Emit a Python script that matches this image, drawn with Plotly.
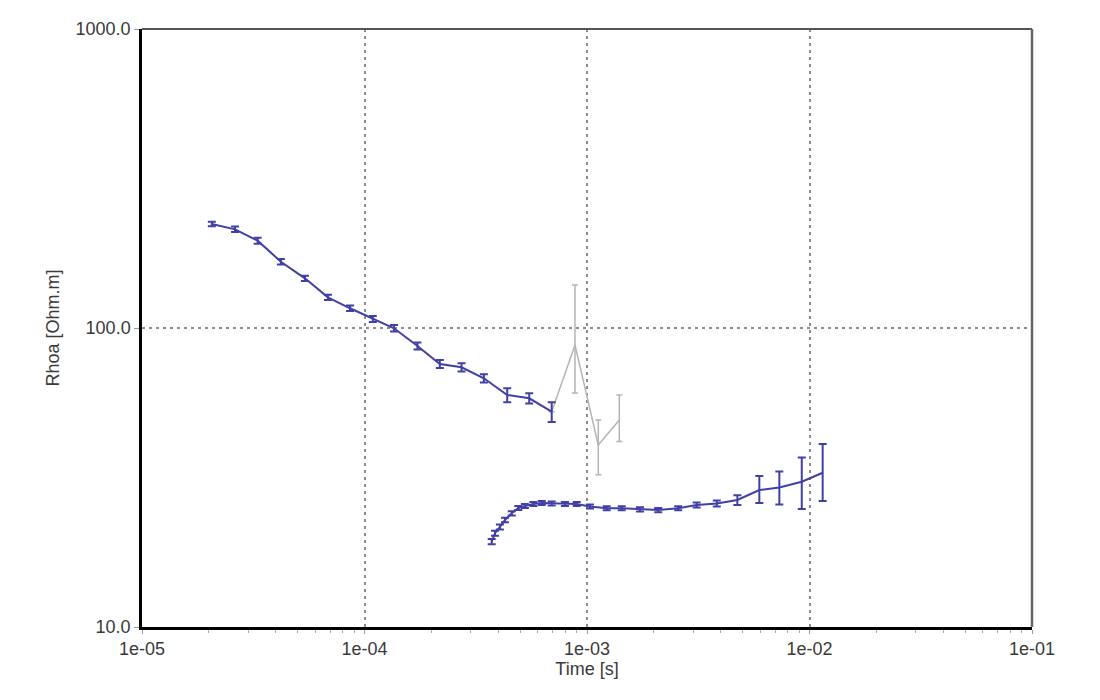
import numpy as np
import plotly.graph_objects as go

# Early-time branch (descending), blue
t_early = [2.06e-5, 2.62e-5, 3.31e-5, 4.21e-5, 5.40e-5, 6.85e-5, 8.61e-5, 1.09e-4,
           1.357e-4, 1.73e-4, 2.18e-4, 2.73e-4, 3.44e-4, 4.38e-4, 5.50e-4, 6.94e-4]
rho_early = [222.8, 213.8, 195.9, 166.6, 146.6, 126.6, 116.4, 107.2,
             99.8, 87.1, 75.8, 73.9, 67.9, 59.7, 58.2, 52.5]
err_early = [4.0, 4.5, 4.5, 3.5, 3.0, 2.5, 2.5, 2.5,
             2.5, 2.3, 2.3, 2.3, 2.2, 3.2, 2.3, 4.0]

# Rejected gates, grey
t_rej = [6.94e-4, 8.83e-4, 1.124e-3, 1.397e-3]
rho_rej = [52.5, 87.8, 40.6, 49.2]
err_rej_plus = [np.nan, 51.4, 8.6, 10.5]
err_rej_minus = [np.nan, 27.2, 8.3, 7.5]

# Late-time branch, blue
t_late = [3.73e-4, 3.86e-4, 4.06e-4, 4.28e-4, 4.59e-4, 4.91e-4, 5.26e-4, 5.74e-4,
          6.26e-4, 6.94e-4, 7.96e-4, 8.99e-4, 1.031e-3, 1.226e-3, 1.432e-3, 1.73e-3,
          2.09e-3, 2.57e-3, 3.11e-3, 3.83e-3, 4.74e-3, 5.95e-3, 7.32e-3, 9.23e-3, 1.146e-2]
rho_late = [19.3, 20.6, 21.6, 22.8, 24.0, 25.0, 25.4, 25.8,
            26.0, 25.9, 25.8, 25.8, 25.3, 24.95, 24.95, 24.75,
            24.6, 24.95, 25.6, 25.9, 26.6, 28.7, 29.3, 30.6, 32.8]
err_late_plus = [0.4, 0.4, 0.4, 0.4, 0.4, 0.4, 0.4, 0.4,
                 0.4, 0.4, 0.4, 0.4, 0.4, 0.4, 0.4, 0.4,
                 0.4, 0.4, 0.5, 0.6, 1.0, 3.3, 3.8, 6.3, 8.1]
err_late_minus = [0.4, 0.4, 0.4, 0.4, 0.4, 0.4, 0.4, 0.4,
                  0.4, 0.4, 0.4, 0.4, 0.4, 0.4, 0.4, 0.4,
                  0.4, 0.4, 0.5, 0.6, 1.0, 2.7, 3.6, 5.8, 6.4]

x_ticks = [1e-5, 1e-4, 1e-3, 1e-2, 1e-1]
x_labels = ["1e-05", "1e-04", "1e-03", "1e-02", "1e-01"]
y_ticks = [10, 100, 1000]
y_labels = ["10.0", "100.0", "1000.0"]

BLUE = "#4040a6"
GREY = "#b4b4b4"

fig = go.Figure()

# grey first so the blue curves sit on top
fig.add_trace(go.Scatter(
    x=t_rej, y=rho_rej, mode="lines",
    line=dict(color=GREY, width=1.5),
    error_y=dict(type="data", symmetric=False, array=err_rej_plus,
                 arrayminus=err_rej_minus, color=GREY, thickness=1.5, width=3),
))

fig.add_trace(go.Scatter(
    x=t_early, y=rho_early, mode="lines",
    line=dict(color=BLUE, width=2),
    error_y=dict(type="data", array=err_early, color=BLUE, thickness=2, width=4),
))

fig.add_trace(go.Scatter(
    x=t_late, y=rho_late, mode="lines",
    line=dict(color=BLUE, width=2),
    error_y=dict(type="data", symmetric=False, array=err_late_plus,
                 arrayminus=err_late_minus, color=BLUE, thickness=2, width=4),
))

axis_font = dict(family="Liberation Sans, Arial, sans-serif", size=18, color="#3a3a3a")
grid_dash = "3px,4px"

fig.update_layout(
    width=1100, height=700,
    # page body adds 8px offset, margins compensate
    margin=dict(l=134, r=76, t=21, b=81),
    paper_bgcolor="white", plot_bgcolor="white",
    showlegend=False,
    font=axis_font,
    xaxis=dict(
        type="log", range=[-5, -1],
        tickmode="array", tickvals=x_ticks, ticktext=x_labels,
        ticks="outside", ticklen=4, tickcolor="#999",
        minor=dict(ticks="outside", ticklen=3, tickcolor="#aaa", dtick="D1", showgrid=False),
        showgrid=True, gridcolor="#8c8c8c", gridwidth=1.5, griddash=grid_dash,
        showline=True, linecolor="black", linewidth=2.5,
        zeroline=False,
        title=dict(text="Time [s]", standoff=2, font=axis_font),
    ),
    yaxis=dict(
        type="log", range=[1, 3],
        tickmode="array", tickvals=y_ticks, ticktext=y_labels,
        ticks="outside", ticklen=5, tickcolor="#999",
        showgrid=True, gridcolor="#8c8c8c", gridwidth=1.5, griddash=grid_dash,
        showline=True, linecolor="black", linewidth=2.5,
        zeroline=False,
        title=dict(text="Rhoa [Ohm.m]", standoff=12, font=axis_font),
    ),
    shapes=[
        dict(type="line", xref="paper", yref="paper", x0=0, x1=1, y0=1, y1=1,
             line=dict(color="#555", width=2)),
        dict(type="line", xref="paper", yref="paper", x0=1, x1=1, y0=0, y1=1,
             line=dict(color="#666", width=2.5)),
    ],
)

fig.write_html("out.html")
